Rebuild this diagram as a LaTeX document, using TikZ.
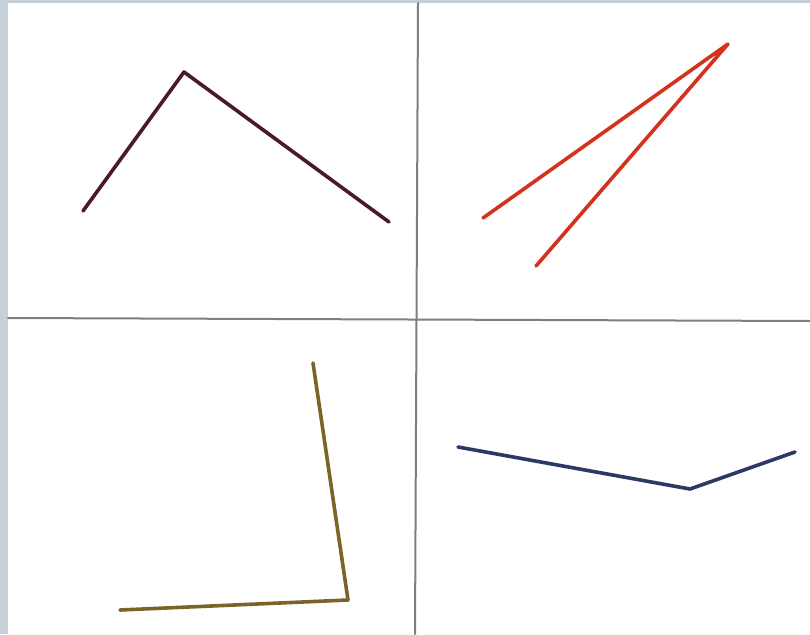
\documentclass[tikz,border=0pt]{standalone}
\usepackage{xcolor}
\usepackage{tikz}
\definecolor{frame}{HTML}{C5D0D8}
\definecolor{rule}{HTML}{7E7E7E}
\definecolor{plum}{HTML}{4A1A2C}
\definecolor{brick}{HTML}{D2321E}
\definecolor{ochre}{HTML}{7A6428}
\definecolor{navy}{HTML}{2A3A64}

\begin{document}
\begin{tikzpicture}[x=1pt,y=-1pt,line cap=round,line join=round,
  stroke/.style={line width=3.6pt}]
\useasboundingbox(0,0)rectangle(810,634);
\fill[frame](0,0)rectangle(810,634);
\fill[white](8,3)rectangle(810,634);
% quadrant rules
\draw[rule,line width=2pt](418,3)--(415,634);
\draw[rule,line width=2pt](8,318)--(810,321);
% top left
\draw[stroke,plum](83,211)--(184,72)--(389,222);
% top right
\draw[stroke,brick](483,218)--(728,44)--(536,266);
% bottom left
\draw[stroke,ochre](313,363)--(348,600)--(120,610);
% bottom right
\draw[stroke,navy](458,447)--(690,489)--(795,452);
\end{tikzpicture}
\end{document}
